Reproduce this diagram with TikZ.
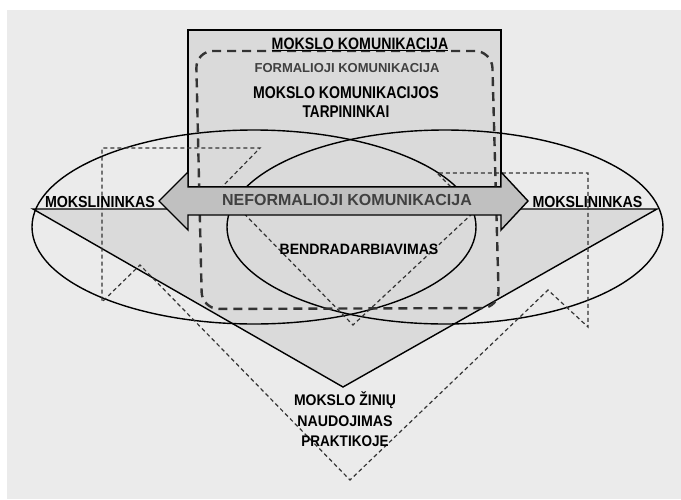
\documentclass[tikz,border=0pt]{standalone}
\usepackage{fontspec}
\setmainfont{Liberation Sans}
\usepackage{graphicx}
\definecolor{bg}{HTML}{EBEBEB}
\definecolor{fillgray}{HTML}{DADADA}
\definecolor{arrowgray}{HTML}{C0C0C0}
\definecolor{darktext}{HTML}{404040}
\definecolor{dashgray}{HTML}{333333}
\newcommand{\cnd}[2]{\scalebox{#1}[1]{#2}}
\tikzset{
  solidline/.style={draw=black, line width=1.4pt},
  thindash/.style={draw=dashgray, line width=1.2pt, dash pattern=on 4pt off 3pt},
  thickdash/.style={draw=dashgray, line width=2.4pt, dash pattern=on 9pt off 6pt},
  lbl/.style={inner sep=0pt, anchor=base, font=\bfseries},
}
\begin{document}
\begin{tikzpicture}[x=1pt,y=-1pt]
\useasboundingbox (0,0) rectangle (681,499);
\fill[bg] (7,10) rectangle (681,499);
% triangle
\filldraw[fill=fillgray, solidline, line join=miter] (33,209) -- (657,209) -- (343,387) -- cycle;
% top rectangle
\filldraw[fill=fillgray, solidline] (188,30) rectangle (501,187);
% ellipses
\draw[solidline] (254,227) ellipse [x radius=222pt, y radius=97pt];
\draw[solidline] (445,227) ellipse [x radius=218pt, y radius=97pt];
% thin dashed zigzag
\draw[thindash] (220,189) -- (260,148) -- (102,148) -- (102,302) -- (140,265) -- (350,480) -- (548,290) -- (588,327) -- (588,173) -- (437,173) -- (475,211) -- (353,325) -- cycle;
% thick dashed rounded rectangle
\draw[thickdash, rounded corners=17pt] (344,51) -- (492,51) -- (499,308) -- (202,309) -- (196,51) -- cycle;
% double arrow
\filldraw[fill=arrowgray, solidline, line join=miter] (159,201) -- (188,172) -- (188,187) -- (501,187) -- (501,172) -- (528,201) -- (501,230) -- (501,215) -- (188,215) -- (188,230) -- cycle;
% texts
\node[lbl, font=\bfseries\fontsize{16.5}{18}\selectfont] (t1) at (360,49) {\cnd{0.86}{\underline{MOKSLO KOMUNIKACIJA}}};
\node[lbl, font=\bfseries\fontsize{13}{15}\selectfont, text=darktext] (t2) at (347,72.5) {FORMALIOJI KOMUNIKACIJA};
\node[lbl, font=\bfseries\fontsize{17}{19}\selectfont] (t3) at (346,98) {\cnd{0.83}{MOKSLO KOMUNIKACIJOS}};
\node[lbl, font=\bfseries\fontsize{17}{19}\selectfont] (t4) at (346,117) {\cnd{0.8}{TARPININKAI}};
\node[lbl, font=\bfseries\fontsize{16}{18}\selectfont] (ml) at (100,207) {\cnd{0.89}{MOKSLININKAS}};
\node[lbl, font=\bfseries\fontsize{16}{18}\selectfont] (mr) at (587.5,207) {\cnd{0.89}{MOKSLININKAS}};
\node[lbl, font=\bfseries\fontsize{16}{18}\selectfont, text=darktext] (nf) at (347,205) {NEFORMALIOJI KOMUNIKACIJA};
\node[lbl, font=\bfseries\fontsize{15}{17}\selectfont] (bd) at (359,254) {\cnd{0.94}{BENDRADARBIAVIMAS}};
\node[lbl, font=\bfseries\fontsize{15.4}{17}\selectfont] (b1) at (345,405) {\cnd{0.91}{MOKSLO ŽINIŲ}};
\node[lbl, font=\bfseries\fontsize{15.4}{17}\selectfont] (b2) at (345,426) {\cnd{0.92}{NAUDOJIMAS}};
\node[lbl, font=\bfseries\fontsize{15.4}{17}\selectfont] (b3) at (345,446) {\cnd{0.88}{PRAKTIKOJE}};
\end{tikzpicture}
\end{document}
